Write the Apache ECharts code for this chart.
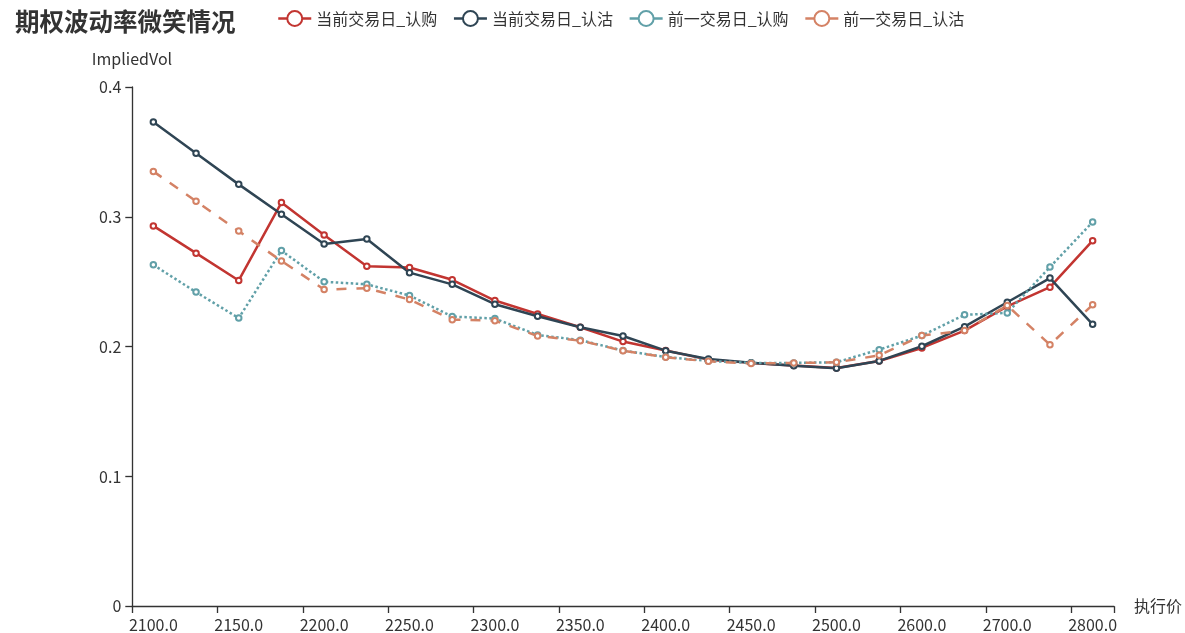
<!DOCTYPE html>
<html>
<head>
<meta charset="utf-8">
<title>期权波动率微笑情况</title>
<script src="https://cdn.jsdelivr.net/npm/echarts@6/dist/echarts.min.js"></script>
<style>
  html, body { margin: 0; padding: 0; background: #fff; }
  #chart { width: 1185px; height: 633px; }
</style>
</head>
<body>
<div id="chart"></div>
<script>
// Strike prices (category axis)
const strikes = ['2100.0','2125.0','2150.0','2175.0','2200.0','2225.0','2250.0','2275.0','2300.0','2325.0','2350.0','2375.0','2400.0','2425.0','2450.0','2475.0','2500.0','2550.0','2600.0','2650.0','2700.0','2750.0','2800.0'];

// Implied volatility by strike
const curCall = [0.293,0.272,0.251,0.311,0.286,0.262,0.261,0.2515,0.2355,0.2252,0.2149,0.2039,0.197,0.190,0.1875,0.1855,0.1835,0.189,0.199,0.2124,0.231,0.2458,0.2816];
const curPut  = [0.373,0.349,0.325,0.302,0.279,0.283,0.257,0.248,0.2327,0.2234,0.2149,0.2082,0.1969,0.1905,0.1876,0.1853,0.1833,0.189,0.2003,0.2154,0.2342,0.2528,0.2172];
const prevCall = [0.263,0.242,0.222,0.274,0.250,0.248,0.2394,0.2232,0.2216,0.209,0.205,0.197,0.192,0.189,0.1875,0.1875,0.188,0.1977,0.2085,0.2245,0.226,0.2613,0.296];
const prevPut  = [0.335,0.312,0.289,0.266,0.244,0.245,0.2363,0.2208,0.220,0.2082,0.2046,0.1969,0.1918,0.1887,0.1871,0.1874,0.1879,0.1933,0.2085,0.2124,0.2317,0.2015,0.2322];

const seriesNames = ['当前交易日_认购','当前交易日_认沽','前一交易日_认购','前一交易日_认沽'];
const colors = ['#c23531','#2f4554','#61a0a8','#d48265'];
const yTicks = [0, 0.1, 0.2, 0.3, 0.4];

const font = '"Noto Sans CJK SC", "Noto Sans", sans-serif';
const lw = 2.5;

function lineSeries(name, data, color, dash) {
  return {
    name: name,
    type: 'line',
    data: data,
    symbol: 'emptyCircle',
    symbolSize: 5.5,
    showSymbol: true,
    color: color,
    itemStyle: { color: color, borderWidth: 1.5 },
    lineStyle: { width: lw, color: color, type: dash || 'solid' },
    emphasis: { disabled: true },
    animation: false
  };
}

const chart = echarts.init(document.getElementById('chart'), null, { renderer: 'canvas' });
chart.setOption({
  backgroundColor: '#fff',
  textStyle: { fontFamily: font },
  color: colors,
  title: {
    text: '期权波动率微笑情况',
    left: 15,
    top: 9,
    padding: 0,
    textStyle: { fontSize: 24.5, fontWeight: 'bold', color: '#333', fontFamily: font }
  },
  legend: {
    data: seriesNames,
    left: 277,
    top: 10,
    padding: 0,
    itemWidth: 33,
    itemHeight: 18.7,
    itemGap: 15.5,
    textStyle: { fontSize: 16, color: '#333', fontFamily: font },
    lineStyle: { type: 'solid', width: lw }
  },
  grid: { left: 132, right: 69, top: 87, bottom: 26.5 },
  xAxis: {
    type: 'category',
    data: strikes,
    boundaryGap: true,
    name: '执行价',
    nameGap: 20,
    nameTextStyle: { fontSize: 16, color: '#333', fontFamily: font },
    axisLine: { show: true, lineStyle: { color: '#333', width: 1.33 } },
    axisTick: { show: true, length: 6.7, interval: 1, lineStyle: { color: '#333', width: 1.33 } },
    axisLabel: { interval: 1, fontSize: 16, color: '#333', margin: 10.7, fontFamily: font },
    splitLine: { show: false }
  },
  yAxis: {
    type: 'value',
    name: 'ImpliedVol',
    nameGap: 20,
    nameTextStyle: { fontSize: 16, color: '#333', fontFamily: font },
    min: yTicks[0],
    max: yTicks[yTicks.length - 1],
    interval: 0.1,
    axisLine: { show: true, lineStyle: { color: '#333', width: 1.33 } },
    axisTick: { show: true, length: 6.7, lineStyle: { color: '#333', width: 1.33 } },
    axisLabel: { fontSize: 16, color: '#333', margin: 10.7, fontFamily: font },
    splitLine: { show: false }
  },
  series: [
    lineSeries(seriesNames[0], curCall, colors[0]),
    lineSeries(seriesNames[1], curPut, colors[1]),
    lineSeries(seriesNames[2], prevCall, colors[2], [2.5, 2.5]),
    lineSeries(seriesNames[3], prevPut, colors[3], [10, 10])
  ]
});
</script>
</body>
</html>
